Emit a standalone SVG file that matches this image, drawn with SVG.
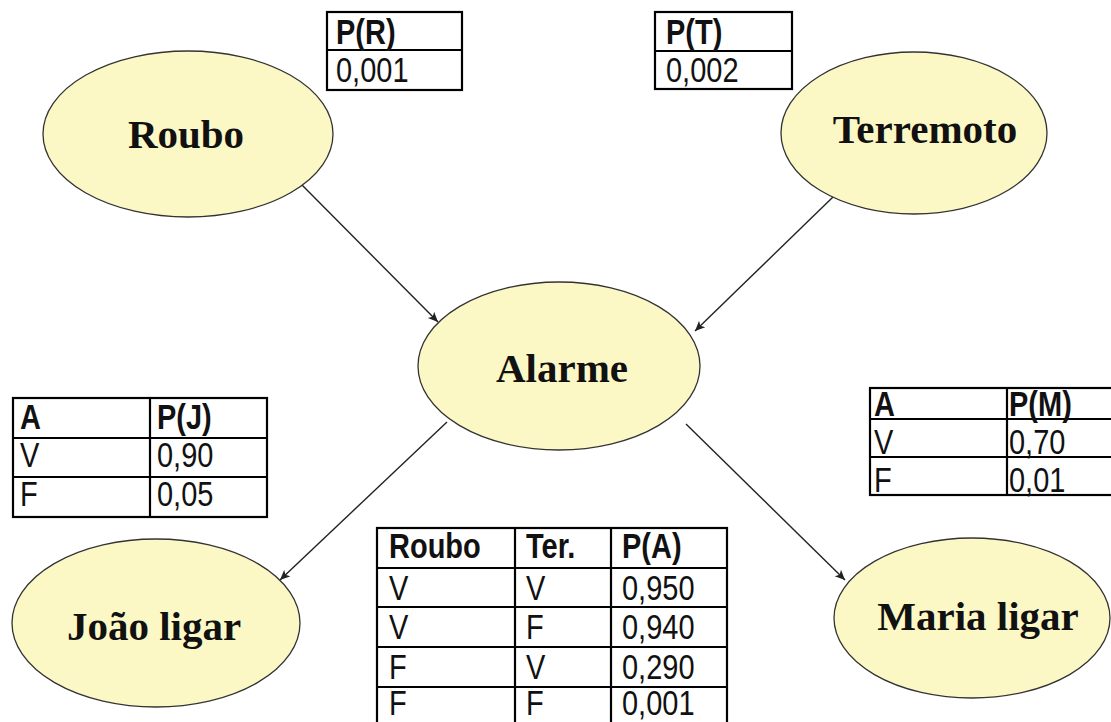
<svg xmlns="http://www.w3.org/2000/svg" width="1111" height="722" viewBox="0 0 1111 722">
<style>
.node{fill:#FCF8C6;stroke:#333;stroke-width:1.3}
.lbl{font-family:"Liberation Serif","Times New Roman",serif;font-weight:bold;font-size:41px;fill:#111;text-anchor:middle}
.tb{fill:#fff;stroke:#000;stroke-width:2.2}
.ln{stroke:#000;stroke-width:2.2}
.t{font-family:"Liberation Sans",Arial,sans-serif;font-size:29px;fill:#111}
.h{font-weight:bold}
.edge{stroke:#222;stroke-width:1.4;fill:none;marker-end:url(#arr)}
</style>
<defs>
<marker id="arr" viewBox="0 0 10 10" refX="10" refY="5" markerWidth="10" markerHeight="10" markerUnits="userSpaceOnUse" orient="auto">
<path d="M0,0.5 L10,5 L0,9.5 L2.5,5 Z" fill="#222"/>
</marker>
</defs>
<rect width="1111" height="722" fill="#fff"/>
<g id="connectors">
<line class="edge" x1="302" y1="185" x2="438" y2="322"/>
<line class="edge" x1="833" y1="197" x2="695" y2="331"/>
<line class="edge" x1="447" y1="422" x2="280" y2="580"/>
<line class="edge" x1="686" y1="424" x2="845" y2="580"/>
</g>
<g id="roubo">
<ellipse class="node" cx="188" cy="134" rx="145" ry="83"/>
<text class="lbl" x="186" y="148">Roubo</text>
</g>
<g id="terremoto">
<ellipse class="node" cx="914" cy="133" rx="133" ry="81"/>
<text class="lbl" x="925" y="143">Terremoto</text>
</g>
<g id="alarme">
<ellipse class="node" cx="559" cy="366" rx="141" ry="84"/>
<text class="lbl" x="562" y="382">Alarme</text>
</g>
<g id="joao">
<ellipse class="node" cx="156" cy="623" rx="144" ry="84"/>
<text class="lbl" x="154" y="640">João ligar</text>
</g>
<g id="maria">
<ellipse class="node" cx="972" cy="618" rx="138" ry="80"/>
<text class="lbl" x="978" y="630">Maria ligar</text>
</g>
<g id="table-pr">
<rect class="tb" x="327" y="12" width="135" height="78"/>
<line class="ln" x1="327" y1="50" x2="462" y2="50"/>
<text class="t h" transform="translate(336 44) scale(1 1.18)">P(R)</text>
<text class="t" transform="translate(336 82) scale(1 1.18)">0,001</text>
</g>
<g id="table-pt">
<rect class="tb" x="655" y="12" width="137" height="77"/>
<line class="ln" x1="655" y1="51" x2="792" y2="51"/>
<text class="t h" transform="translate(666 44) scale(1 1.18)">P(T)</text>
<text class="t" transform="translate(666 82) scale(1 1.18)">0,002</text>
</g>
<g id="table-pj">
<rect class="tb" x="13" y="398" width="254" height="119"/>
<line class="ln" x1="13" y1="438" x2="267" y2="438"/>
<line class="ln" x1="13" y1="477" x2="267" y2="477"/>
<line class="ln" x1="150" y1="398" x2="150" y2="517"/>
<text class="t h" transform="translate(20 429) scale(1 1.18)">A</text>
<text class="t h" transform="translate(157 429) scale(1 1.18)">P(J)</text>
<text class="t" transform="translate(20 467) scale(1 1.18)">V</text>
<text class="t" transform="translate(157 467) scale(1 1.18)">0,90</text>
<text class="t" transform="translate(20 506) scale(1 1.18)">F</text>
<text class="t" transform="translate(157 506) scale(1 1.18)">0,05</text>
</g>
<g id="table-pm">
<rect class="tb" x="870" y="388" width="250" height="107"/>
<line class="ln" x1="870" y1="419" x2="1111" y2="419"/>
<line class="ln" x1="870" y1="457" x2="1111" y2="457"/>
<line class="ln" x1="1007" y1="388" x2="1007" y2="495"/>
<text class="t h" transform="translate(874 416) scale(1 1.18)">A</text>
<text class="t h" transform="translate(1009 416) scale(1 1.18)">P(M)</text>
<text class="t" transform="translate(874 454) scale(1 1.18)">V</text>
<text class="t" transform="translate(1009 454) scale(1 1.18)">0,70</text>
<text class="t" transform="translate(874 492) scale(1 1.18)">F</text>
<text class="t" transform="translate(1009 492) scale(1 1.18)">0,01</text>
</g>
<g id="table-pa">
<rect class="tb" x="377" y="528" width="350" height="210"/>
<line class="ln" x1="377" y1="568" x2="727" y2="568"/>
<line class="ln" x1="377" y1="607" x2="727" y2="607"/>
<line class="ln" x1="377" y1="647" x2="727" y2="647"/>
<line class="ln" x1="377" y1="687" x2="727" y2="687"/>
<line class="ln" x1="515" y1="528" x2="515" y2="722"/>
<line class="ln" x1="611" y1="528" x2="611" y2="722"/>
<text class="t h" transform="translate(389 558) scale(1 1.18)">Roubo</text>
<text class="t h" transform="translate(526 558) scale(1 1.18)">Ter.</text>
<text class="t h" transform="translate(622 558) scale(1 1.18)">P(A)</text>
<text class="t" transform="translate(389 600) scale(1 1.18)">V</text>
<text class="t" transform="translate(526 600) scale(1 1.18)">V</text>
<text class="t" transform="translate(622 600) scale(1 1.18)">0,950</text>
<text class="t" transform="translate(389 639) scale(1 1.18)">V</text>
<text class="t" transform="translate(526 639) scale(1 1.18)">F</text>
<text class="t" transform="translate(622 639) scale(1 1.18)">0,940</text>
<text class="t" transform="translate(389 679) scale(1 1.18)">F</text>
<text class="t" transform="translate(526 679) scale(1 1.18)">V</text>
<text class="t" transform="translate(622 679) scale(1 1.18)">0,290</text>
<text class="t" transform="translate(389 715) scale(1 1.18)">F</text>
<text class="t" transform="translate(526 715) scale(1 1.18)">F</text>
<text class="t" transform="translate(622 715) scale(1 1.18)">0,001</text>
</g>
</svg>
